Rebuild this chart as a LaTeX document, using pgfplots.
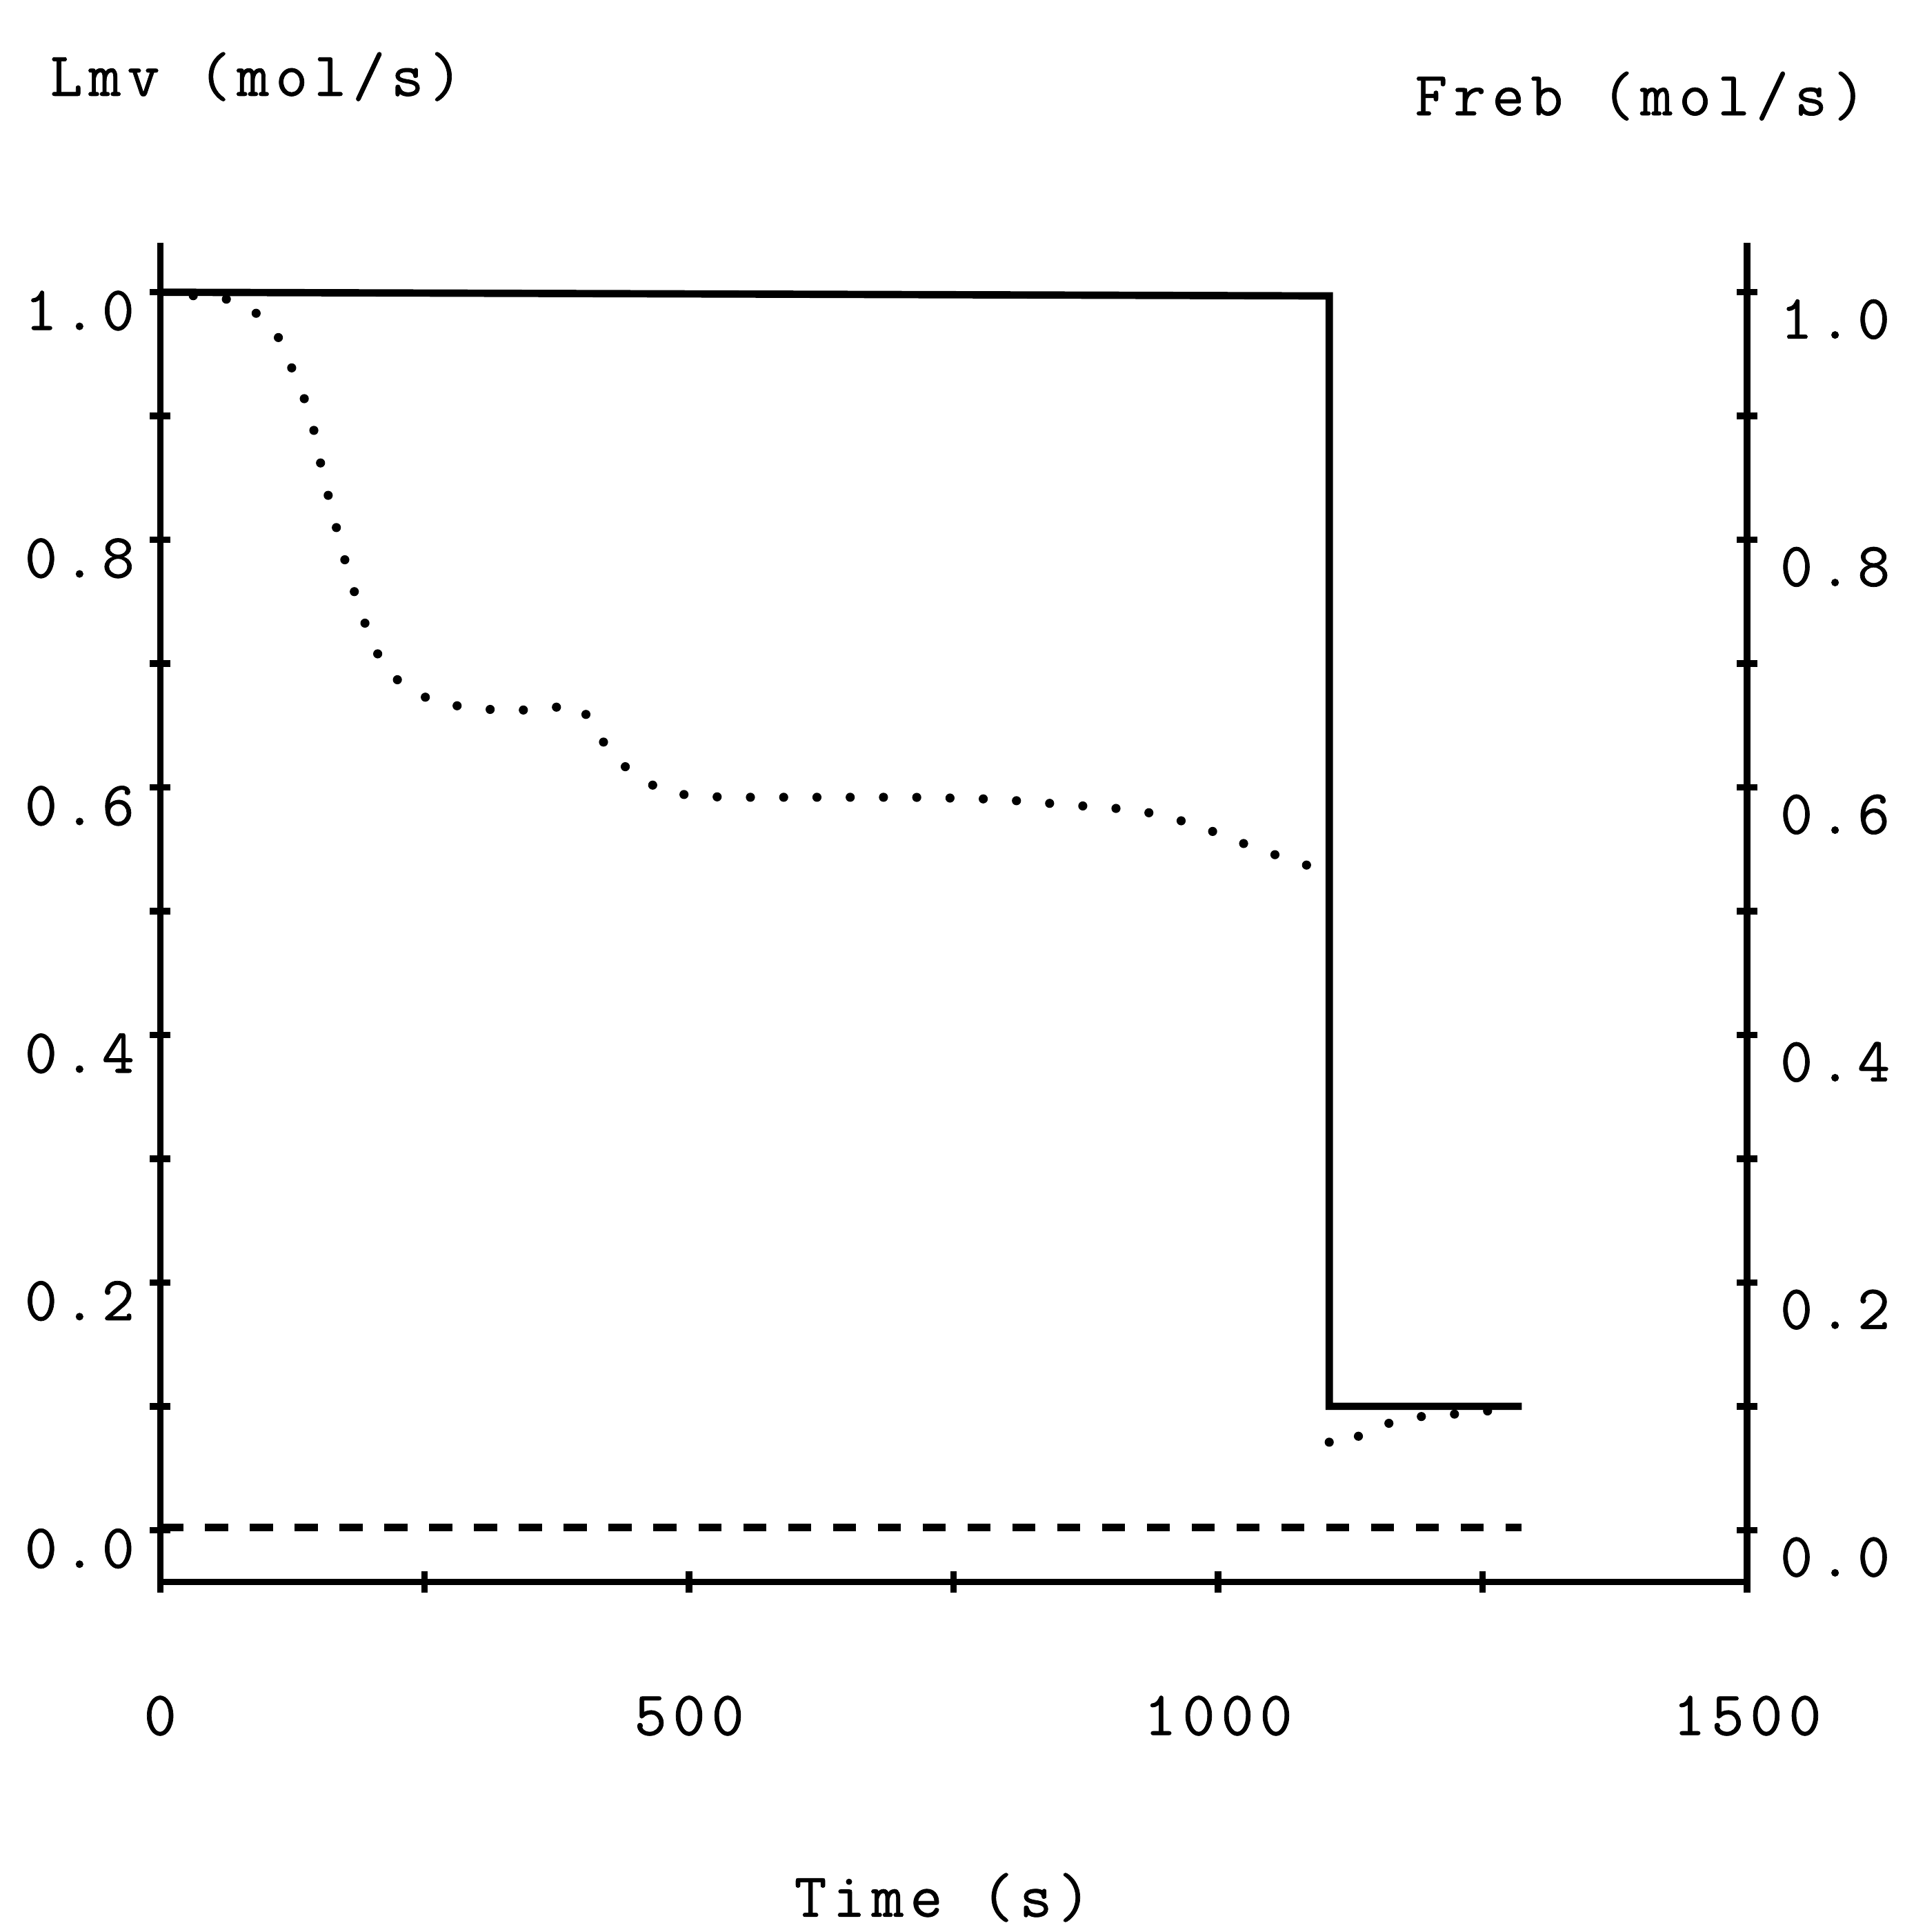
\documentclass[border=0pt]{standalone}
\usepackage{fontspec}
\usepackage{pgfplots}
\pgfplotsset{compat=1.18}

% typewriter look of the original plot (Latin Modern Mono, spaced out a little)
\newfontfamily\courfont{lmmono12-regular}[Extension=.otf, LetterSpace=10, FakeBold=0.8]
\newcommand\cf{\courfont\fontsize{14.5}{16}\selectfont}

\pgfplotsset{
  plain/.style={
    scale only axis, width=12.88cm, height=10.87cm,
    xmin=0, xmax=1500, ymin=-0.042, ymax=1.04,
    clip mode=individual,
    tick align=center, major tick length=0.17cm, minor tick length=0.17cm,
    tick style={line width=1.5pt, black},
    ticklabel style={font=\cf},
    /pgf/number format/assume math mode=true,
    yticklabel style={/pgf/number format/fixed, /pgf/number format/fixed zerofill,
      /pgf/number format/precision=1},
    ytick={0,0.2,0.4,0.6,0.8,1.0}, minor y tick num=1,
  },
  noarrows/.style={
    every outer x axis line/.append style={-},
    every outer y axis line/.append style={-},
    x axis line style={-}, y axis line style={-},
    axis line style={-, line width=1.5pt, black},
  },
  dots/.style={line width=2.1pt, black, line cap=round, dash pattern=on 0pt off 0.27cm},
}

\begin{document}
\begin{tikzpicture}
\useasboundingbox (-1.30,-2.84) rectangle (14.16,12.84);

\begin{axis}[plain,
  axis x line=bottom, axis y line=left, noarrows,
  xtick={0,500,1000,1500}, minor x tick num=1,
  xticklabel style={anchor=center, yshift=-1.0cm,
    /pgf/number format/set thousands separator={}},
  yticklabel style={anchor=east, xshift=0cm, yshift=-0.15cm},
]
% Lmv, solid
\addplot[line width=1.7pt, black] coordinates {
  (0,1.000) (1105,0.997) (1105,0.100) (1287,0.100)};
% dashed
\addplot[line width=1.8pt, black, dash pattern=on 0.187cm off 0.177cm] coordinates {
  (0,0.002) (1287,0.002)};
% dotted, before and after the step
\addplot[dots] coordinates {
  (0,1.000) (67,0.994) (95,0.981) (114,0.961) (128,0.931) (142,0.902)
  (148,0.877) (154,0.852) (163,0.822) (170,0.798) (178,0.773) (188,0.746)
  (198,0.722) (212,0.696) (235,0.679) (263,0.668) (297,0.664) (326,0.662)
  (361,0.663) (391,0.667) (408,0.655) (423,0.630) (448,0.610) (478,0.596)
  (507,0.593) (536,0.592) (594,0.592) (652,0.592) (710,0.592) (769,0.591)
  (798,0.590) (827,0.588) (857,0.586) (887,0.584) (920,0.582) (949,0.577)
  (981,0.569) (1011,0.559) (1041,0.549) (1071,0.541) (1101,0.532)};
\addplot[dots] coordinates {
  (1105,0.071) (1115,0.067) (1143,0.081) (1171,0.089) (1202,0.093)
  (1233,0.094) (1262,0.097) (1280,0.098)};

\node[font=\cf, anchor=west, inner sep=0pt] at (axis description cs:-0.0699,1.124) {Lmv (mol/s)};
\node[font=\cf, anchor=east, inner sep=0pt] at (axis description cs:1.0753,1.1095) {Freb (mol/s)};
\node[font=\cf, inner sep=0pt] at (axis description cs:0.493,-0.2355) {Time (s)};
\end{axis}

\begin{axis}[plain,
  axis x line=none, axis y line=right, noarrows,
  yticklabel style={anchor=west, xshift=0.06cm, yshift=-0.22cm},
]
\end{axis}
\end{tikzpicture}
\end{document}
